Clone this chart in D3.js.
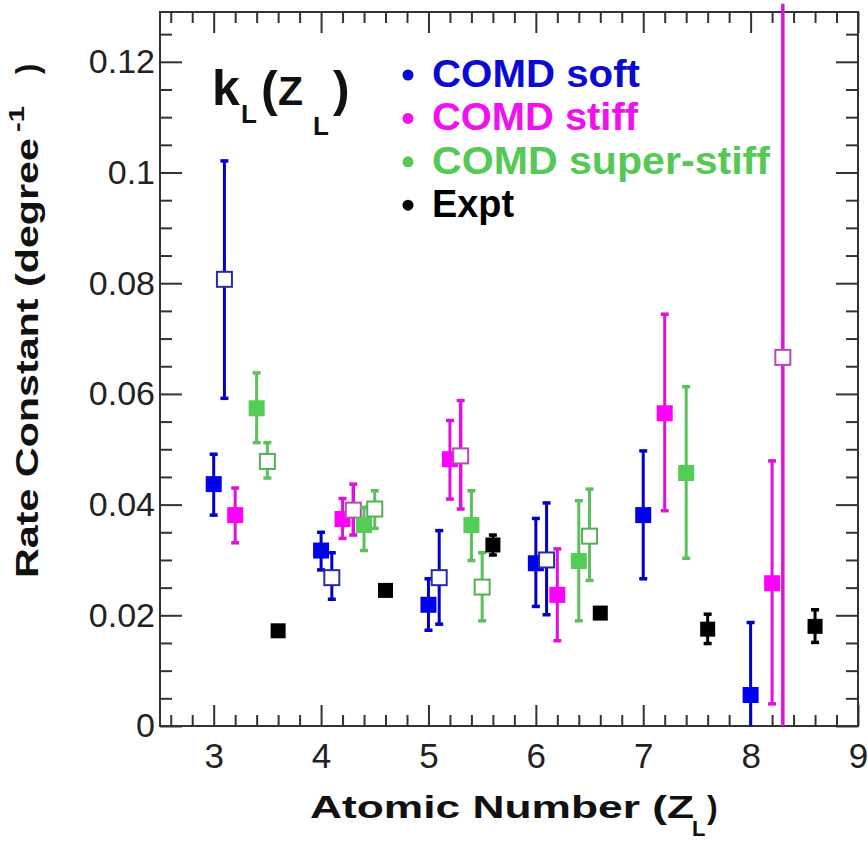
<!DOCTYPE html>
<html>
<head>
<meta charset="utf-8">
<script src="https://cdn.jsdelivr.net/npm/d3@7"></script>
<style>
  html, body { margin: 0; padding: 0; background: #fff; }
  svg { display: block; }
</style>
</head>
<body>
<svg id="chart" width="868" height="842"></svg>
<script>
// ---------- DATA ----------
const xTickValues = [3, 4, 5, 6, 7, 8, 9];
const yTickValues = [0, 0.02, 0.04, 0.06, 0.08, 0.1, 0.12];
const yTickLabels = ["0", "0.02", "0.04", "0.06", "0.08", "0.1", "0.12"];

const seriesNames = ["COMD soft", "COMD stiff", "COMD super-stiff", "Expt"];

// COMD soft
const softFilledX  = [3.0, 4.0, 5.0, 6.0, 7.0, 8.0];
const softFilledY  = [0.0437, 0.0317, 0.0219, 0.0294, 0.0381, 0.0056];
const softFilledLo = [0.0381, 0.0282, 0.0173, 0.0216, 0.0266, 0.0];
const softFilledHi = [0.0491, 0.0350, 0.0266, 0.0375, 0.0497, 0.0187];
const softOpenX  = [3.1, 4.1, 5.1, 6.1];
const softOpenY  = [0.0807, 0.0268, 0.0268, 0.0300];
const softOpenLo = [0.0592, 0.0229, 0.0184, 0.0201];
const softOpenHi = [0.1021, 0.0313, 0.0353, 0.0403];

// COMD stiff
const stiffFilledX  = [3.2, 4.2, 5.2, 6.2, 7.2, 8.2];
const stiffFilledY  = [0.0381, 0.0374, 0.0482, 0.0237, 0.0565, 0.0258];
const stiffFilledLo = [0.0331, 0.0339, 0.0410, 0.0154, 0.0389, 0.0040];
const stiffFilledHi = [0.0430, 0.0411, 0.0552, 0.0320, 0.0744, 0.0479];
const stiffOpenX  = [4.3, 5.3, 8.3];
const stiffOpenY  = [0.0390, 0.0488, 0.0666];
const stiffOpenLo = [0.0345, 0.0392, 0.0];
const stiffOpenHi = [0.0437, 0.0588, 0.1305];

// COMD super-stiff
const superFilledX  = [3.4, 4.4, 5.4, 6.4, 7.4];
const superFilledY  = [0.0574, 0.0363, 0.0363, 0.0298, 0.0457];
const superFilledLo = [0.0512, 0.0317, 0.0299, 0.0190, 0.0303];
const superFilledHi = [0.0638, 0.0395, 0.0425, 0.0407, 0.0613];
const superOpenX  = [3.5, 4.5, 5.5, 6.5];
const superOpenY  = [0.0478, 0.0392, 0.0251, 0.0343];
const superOpenLo = [0.0448, 0.0357, 0.0190, 0.0263];
const superOpenHi = [0.0512, 0.0425, 0.0313, 0.0428];

// Experiment
const exptX  = [3.6, 4.6, 5.6, 6.6, 7.6, 8.6];
const exptY  = [0.0172, 0.0245, 0.0327, 0.0204, 0.0175, 0.0180];
const exptLo = [0.0168, 0.0241, 0.0309, 0.0200, 0.0149, 0.0151];
const exptHi = [0.0176, 0.0249, 0.0345, 0.0208, 0.0202, 0.0210];

// ---------- STYLE ----------
const colors = {
  soft:  { fill: "#0000f0", bar: "#0000c8", open: "#2a2ab0", text: "#0a0ad2" },
  stiff: { fill: "#ff00ff", bar: "#e010e0", open: "#b848b8", text: "#f010f0" },
  sup:   { fill: "#55cc55", bar: "#5cc05c", open: "#55b055", text: "#55c855" },
  expt:  { fill: "#000000", bar: "#000000", open: "#000000", text: "#000000" }
};

const W = 868, H = 842;
const margin = { left: 160, top: 12, right: 10, bottom: 116 };

const svg = d3.select("#chart");
const x = d3.scaleLinear().domain([2.5, 9]).range([margin.left, W - margin.right]);
const y = d3.scaleLinear().domain([0, 0.129]).range([H - margin.bottom, margin.top]);

const font = "'Liberation Sans', Arial, Helvetica, sans-serif";
const axisColor = "#333";

// ---------- AXES ----------
const xMinor = d3.range(2.6, 9.0, 0.2).map(v => +v.toFixed(1)).filter(v => Math.abs(v - Math.round(v)) > 1e-6);
const yMinor = d3.range(0.005, 0.129, 0.005).map(v => +v.toFixed(3)).filter(v => Math.abs(v / 0.02 - Math.round(v / 0.02)) > 1e-6);

function styleAxis(g) {
  g.select(".domain").remove();
  g.selectAll(".tick line").attr("stroke", axisColor).attr("stroke-width", 2);
  g.selectAll(".tick text").attr("fill", "#222").style("font-family", font);
}

const y0 = H - margin.bottom, x0 = margin.left, x1 = W - margin.right, yTop = margin.top;

// bottom
svg.append("g").attr("transform", `translate(0,${y0})`)
  .call(d3.axisBottom(x).tickValues(xTickValues).tickSize(-21).tickPadding(17).tickFormat(d3.format("d")))
  .call(styleAxis)
  .call(g => g.selectAll(".tick text").style("font-size", "35px"));
svg.append("g").attr("transform", `translate(0,${y0})`)
  .call(d3.axisBottom(x).tickValues(xMinor).tickSize(-11).tickFormat(""))
  .call(styleAxis);
// top
svg.append("g").attr("transform", `translate(0,${yTop})`)
  .call(d3.axisTop(x).tickValues(xTickValues).tickSize(-21).tickFormat(""))
  .call(styleAxis);
svg.append("g").attr("transform", `translate(0,${yTop})`)
  .call(d3.axisTop(x).tickValues(xMinor).tickSize(-11).tickFormat(""))
  .call(styleAxis);
// left
svg.append("g").attr("transform", `translate(${x0},0)`)
  .call(d3.axisLeft(y).tickValues(yTickValues).tickSize(-22).tickPadding(5)
    .tickFormat((d, i) => yTickLabels[i]))
  .call(styleAxis)
  .call(g => g.selectAll(".tick text").style("font-size", "34px"));
svg.append("g").attr("transform", `translate(${x0},0)`)
  .call(d3.axisLeft(y).tickValues(yMinor).tickSize(-12).tickFormat(""))
  .call(styleAxis);
// right
svg.append("g").attr("transform", `translate(${x1},0)`)
  .call(d3.axisRight(y).tickValues(yTickValues).tickSize(-22).tickFormat(""))
  .call(styleAxis);
svg.append("g").attr("transform", `translate(${x1},0)`)
  .call(d3.axisRight(y).tickValues(yMinor).tickSize(-12).tickFormat(""))
  .call(styleAxis);

// frame
svg.append("rect")
  .attr("x", x0).attr("y", yTop).attr("width", x1 - x0).attr("height", y0 - yTop)
  .attr("fill", "none").attr("stroke", axisColor).attr("stroke-width", 2);

// ---------- DATA MARKS ----------
const clamp = v => Math.max(v, 0);
const plot = svg.append("g");

function drawSeries(xs, ys, lo, hi, col, open, size, barW) {
  const data = xs.map((xv, i) => ({ x: xv, y: ys[i], lo: lo[i], hi: hi[i] }));
  const g = plot.append("g");
  const capW = 8;
  g.selectAll("line.bar").data(data).join("line")
    .attr("x1", d => x(d.x)).attr("x2", d => x(d.x))
    .attr("y1", d => y(clamp(d.lo))).attr("y2", d => y(d.hi))
    .attr("stroke", col.bar).attr("stroke-width", barW);
  g.selectAll("line.capHi").data(data.filter(d => d.hi < 0.129)).join("line")
    .attr("x1", d => x(d.x) - capW / 2).attr("x2", d => x(d.x) + capW / 2)
    .attr("y1", d => y(d.hi)).attr("y2", d => y(d.hi))
    .attr("stroke", col.bar).attr("stroke-width", 3.5);
  g.selectAll("line.capLo").data(data.filter(d => d.lo > 0)).join("line")
    .attr("x1", d => x(d.x) - capW / 2).attr("x2", d => x(d.x) + capW / 2)
    .attr("y1", d => y(d.lo)).attr("y2", d => y(d.lo))
    .attr("stroke", col.bar).attr("stroke-width", 3.5);
  g.selectAll("rect").data(data).join("rect")
    .attr("x", d => x(d.x) - size / 2).attr("y", d => y(d.y) - size / 2)
    .attr("width", size).attr("height", size)
    .attr("fill", open ? "#fff" : col.fill)
    .attr("stroke", open ? col.open : "none")
    .attr("stroke-width", open ? 2 : 0);
}

drawSeries(softFilledX, softFilledY, softFilledLo, softFilledHi, colors.soft, false, 16, 3);
drawSeries(softOpenX, softOpenY, softOpenLo, softOpenHi, colors.soft, true, 15, 3);
drawSeries(stiffFilledX, stiffFilledY, stiffFilledLo, stiffFilledHi, colors.stiff, false, 16, 3);
drawSeries(stiffOpenX, stiffOpenY, stiffOpenLo, stiffOpenHi, colors.stiff, true, 15, 3.5);
drawSeries(superFilledX, superFilledY, superFilledLo, superFilledHi, colors.sup, false, 16, 3);
drawSeries(superOpenX, superOpenY, superOpenLo, superOpenHi, colors.sup, true, 15, 3);
drawSeries(exptX, exptY, exptLo, exptHi, colors.expt, false, 15, 3);

// ---------- LEGEND ----------
const legendColors = [colors.soft.text, colors.stiff.text, colors.sup.text, colors.expt.text];
const legendLengths = [208, 206, 338, 82];
const legendBase = 87, legendStep = 43.4;
const leg = svg.append("g");
seriesNames.forEach((name, i) => {
  const by = legendBase + i * legendStep;
  leg.append("circle").attr("cx", 408).attr("cy", by - 12).attr("r", 5.5).attr("fill", legendColors[i]);
  leg.append("text").attr("x", 432).attr("y", by)
    .attr("textLength", legendLengths[i]).attr("lengthAdjust", "spacingAndGlyphs")
    .style("font-family", font).style("font-weight", "bold").style("font-size", "39px")
    .attr("fill", legendColors[i]).text(name);
});

// ---------- k_L(Z_L) label ----------
const lab = svg.append("g").style("font-family", font).style("font-weight", "bold").attr("fill", "#111");
lab.append("text").attr("x", 212).attr("y", 105).style("font-size", "50px").text("k");
lab.append("text").attr("x", 241).attr("y", 123).style("font-size", "26px").text("L");
lab.append("text").attr("x", 261).attr("y", 106).style("font-size", "50px").text("(");
lab.append("text").attr("x", 278).attr("y", 105).style("font-size", "41px").text("Z");
lab.append("text").attr("x", 313).attr("y", 135).style("font-size", "26px").text("L");
lab.append("text").attr("x", 333).attr("y", 106).style("font-size", "50px").text(")");

// ---------- AXIS TITLES ----------
const xt = svg.append("g").style("font-family", font).style("font-weight", "bold").attr("fill", "#111");
xt.append("text").attr("x", 310).attr("y", 818).style("font-size", "32px")
  .attr("textLength", 384).attr("lengthAdjust", "spacingAndGlyphs").text("Atomic Number (Z");
xt.append("text").attr("x", 692).attr("y", 836).style("font-size", "22px").text("L");
xt.append("text").attr("x", 707).attr("y", 818).style("font-size", "32px").text(")");

const yt = svg.append("g").style("font-family", font).style("font-weight", "bold").attr("fill", "#111");
yt.append("text").attr("transform", "translate(38,578) rotate(-90)").style("font-size", "31px")
  .attr("textLength", 440).attr("lengthAdjust", "spacingAndGlyphs").text("Rate Constant (degree");
yt.append("text").attr("transform", "translate(24,132) rotate(-90)").style("font-size", "22px")
  .attr("textLength", 26).attr("lengthAdjust", "spacingAndGlyphs").text("-1");
yt.append("text").attr("transform", "translate(38,74) rotate(-90)").style("font-size", "31px")
  .text(")");
</script>
</body>
</html>
